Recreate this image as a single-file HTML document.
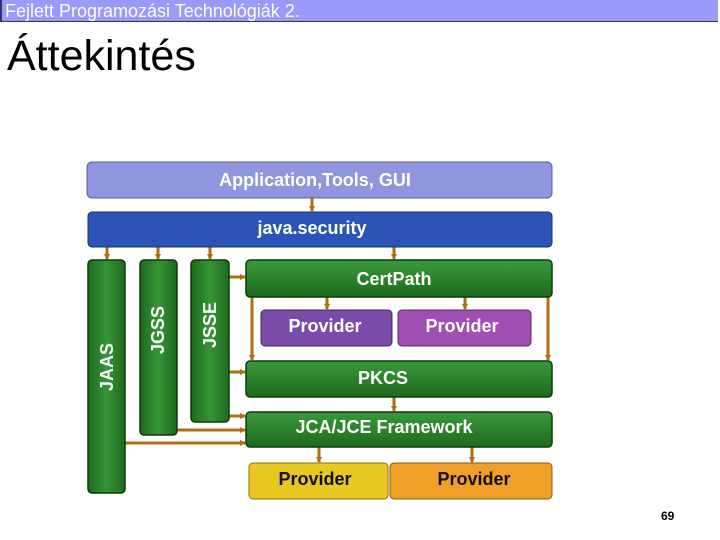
<!DOCTYPE html>
<html><head><meta charset="utf-8"><style>
body{margin:0;width:720px;height:540px;background:#fff;position:relative;overflow:hidden;font-family:"Liberation Sans",sans-serif}
#hdr{position:absolute;left:0;top:0;width:718px;height:22px;background:#9a9afa;border-left:2px solid #333366;border-bottom:1px solid #333366;color:#fff;font-size:18px;line-height:22px;padding-left:3px;box-sizing:border-box}
#ttl{position:absolute;left:7px;top:31px;font-size:43px;line-height:50px;color:#000}
#pg{position:absolute;left:661px;top:509px;font-size:12px;font-weight:bold}
svg{position:absolute;left:0;top:0}
text{font-family:"Liberation Sans",sans-serif;font-weight:bold;font-size:18px;fill:#fff;text-anchor:middle}
</style></head><body>
<div id="hdr">Fejlett Programozási Technológiák 2.</div>
<div id="ttl">Áttekintés</div>
<svg width="720" height="540">
<defs>
<marker id="ah" markerWidth="6" markerHeight="6" refX="5" refY="3" orient="auto" markerUnits="userSpaceOnUse"><path d="M0,0L6,3L0,6z" fill="#b06e10"/></marker>
<linearGradient id="gg" x1="0" y1="0" x2="0" y2="1"><stop offset="0" stop-color="#3a9a3a"/><stop offset="1" stop-color="#1d6a1d"/></linearGradient>
<linearGradient id="gh" x1="0" y1="0" x2="1" y2="0"><stop offset="0" stop-color="#1d6a1d"/><stop offset=".5" stop-color="#359535"/><stop offset="1" stop-color="#1d6a1d"/></linearGradient>
</defs>
<g stroke="#b06e10" stroke-width="3" fill="none" marker-end="url(#ah)">
<line x1="312" y1="198" x2="312" y2="211"/>
<line x1="107" y1="247" x2="107" y2="259"/><line x1="158" y1="247" x2="158" y2="259"/><line x1="210" y1="247" x2="210" y2="259"/><line x1="394" y1="247" x2="394" y2="259"/>
<line x1="229" y1="277" x2="245" y2="277"/><line x1="229" y1="372" x2="245" y2="372"/><line x1="229" y1="416" x2="245" y2="416"/>
<line x1="177" y1="430" x2="245" y2="430"/><line x1="125" y1="443" x2="245" y2="443"/>
<line x1="252" y1="297" x2="252" y2="360"/><line x1="548" y1="297" x2="548" y2="360"/>
<line x1="327" y1="297" x2="327" y2="309"/><line x1="465" y1="297" x2="465" y2="309"/>
<line x1="394" y1="397" x2="394" y2="411"/><line x1="319" y1="447" x2="319" y2="462"/><line x1="472" y1="447" x2="472" y2="462"/>
</g>
<rect x="87" y="162" width="465" height="36" rx="5" fill="#9096de" stroke="#5a5e9a"/>
<text x="315" y="186">Application,Tools, GUI</text>
<rect x="88" y="212" width="464" height="35" rx="4" fill="#2c54b8" stroke="#1a3070"/>
<text x="312" y="234">java.security</text>
<g fill="url(#gh)" stroke="#0e3a0e" stroke-width="1.5">
<rect x="88" y="260" width="37" height="233" rx="4"/>
<rect x="140" y="260" width="37" height="175" rx="4"/>
<rect x="191" y="260" width="38" height="162" rx="4"/>
</g>
<text transform="translate(113,367) rotate(-90)">JAAS</text>
<text transform="translate(164,330) rotate(-90)">JGSS</text>
<text transform="translate(216,325) rotate(-90)">JSSE</text>
<g fill="url(#gg)" stroke="#0e3a0e" stroke-width="1.5">
<rect x="246" y="260" width="306" height="37" rx="4"/>
<rect x="246" y="361" width="306" height="36" rx="4"/>
<rect x="246" y="412" width="306" height="35" rx="4"/>
</g>
<text x="394" y="285">CertPath</text>
<text x="383" y="384">PKCS</text>
<text x="384" y="433">JCA/JCE Framework</text>
<rect x="261" y="310" width="131" height="36" rx="4" fill="#7a4caa" stroke="#45235e"/>
<rect x="398" y="310" width="133" height="36" rx="4" fill="#a050b4" stroke="#5a2a66"/>
<text x="325" y="332">Provider</text><text x="462" y="332">Provider</text>
<rect x="249" y="463" width="139" height="36" rx="4" fill="#e8c820" stroke="#8a7010"/>
<rect x="390" y="463" width="162" height="36" rx="4" fill="#f0a028" stroke="#8a5a10"/>
<text x="315" y="485" style="fill:#111">Provider</text><text x="474" y="485" style="fill:#111">Provider</text>
</svg>
<div id="pg">69</div>
</body></html>
